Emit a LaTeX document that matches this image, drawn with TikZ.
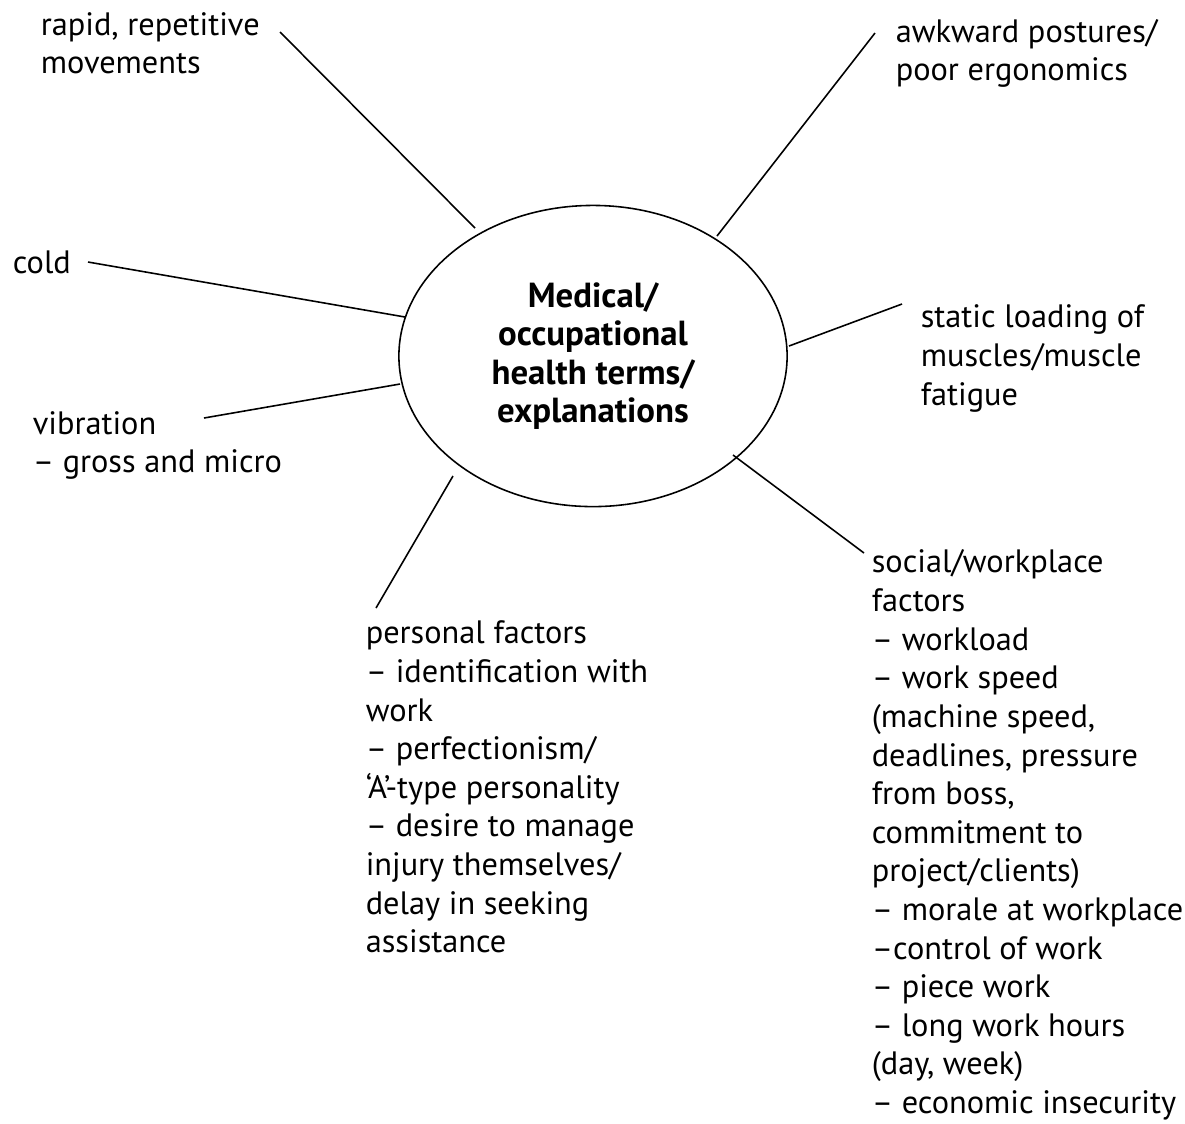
\documentclass[tikz,border=0pt]{standalone}
\usepackage{fontspec}
\setmainfont{PT Sans}
\usetikzlibrary{shapes.geometric}

\begin{document}
\begin{tikzpicture} [
    x=0.01cm, y=-0.01cm,
    line width=0.45pt,
    hub/.style = {ellipse, draw, inner sep=0pt,
        minimum width=3.88cm, minimum height=3.01cm,
        align=center, font=\fontsize{9.9}{10.9}\selectfont\bfseries},
    term/.style = {anchor=base west, align=left, inner sep=0pt,
        font=\fontsize{9.2}{10.98}\selectfont}]
    \useasboundingbox (0,0) rectangle (1185,1123);
    % \draw [help lines] (0,0) grid (1185,1123);
    % terms are placed by the baseline of their last line
    \node (hub) [hub] at (593,356)
        {Medical/\\occupational\\health terms/\\explanations};

    \node (rapid) [term] at (40,73.6) {rapid, repetitive\\movements};
    \node (awkward) [term] at (895,80.6) {awkward postures/\\poor ergonomics};
    \node (cold) [term] at (12,273) {cold};
    \node (static) [term] at (920,405.2)
        {static loading of\\muscles/muscle\\fatigue};
    \node (vibration) [term] at (32,472.6) {vibration\\– gross and micro};
    \node (personal) [term] at (365,952.8)
        {personal factors\\– identification with\\work\\– perfectionism/\\%
         ‘A’-type personality\\– desire to manage\\injury themselves/\\%
         delay in seeking\\assistance};
    \node (social) [term] at (871,1113.5)
        {social/workplace\\factors\\– workload\\– work speed\\%
         (machine speed,\\deadlines, pressure\\from boss,\\commitment to\\%
         project/clients)\\– morale at workplace\\–control of work\\%
         – piece work\\– long work hours\\(day, week)\\– economic insecurity};

    % line ends
    \coordinate (rapid-a) at (280,32);
    \coordinate (rapid-b) at (475,228);
    \coordinate (awkward-a) at (875,33);
    \coordinate (awkward-b) at (717,236);
    \coordinate (cold-a) at (88,262);
    \coordinate (cold-b) at (405,317);
    \coordinate (static-a) at (902,304);
    \coordinate (static-b) at (789,346);
    \coordinate (vibration-a) at (204,418);
    \coordinate (vibration-b) at (400,384);
    \coordinate (social-a) at (864,553);
    \coordinate (social-b) at (733,455);
    \coordinate (personal-a) at (376,608);
    \coordinate (personal-b) at (453,476);

    \path [draw]
        (rapid-a) edge (rapid-b)
        (awkward-a) edge (awkward-b)
        (cold-a) edge (cold-b)
        (static-a) edge (static-b)
        (vibration-a) edge (vibration-b)
        (social-a) edge (social-b)
        (personal-a) edge (personal-b);
\end{tikzpicture}
\end{document}
